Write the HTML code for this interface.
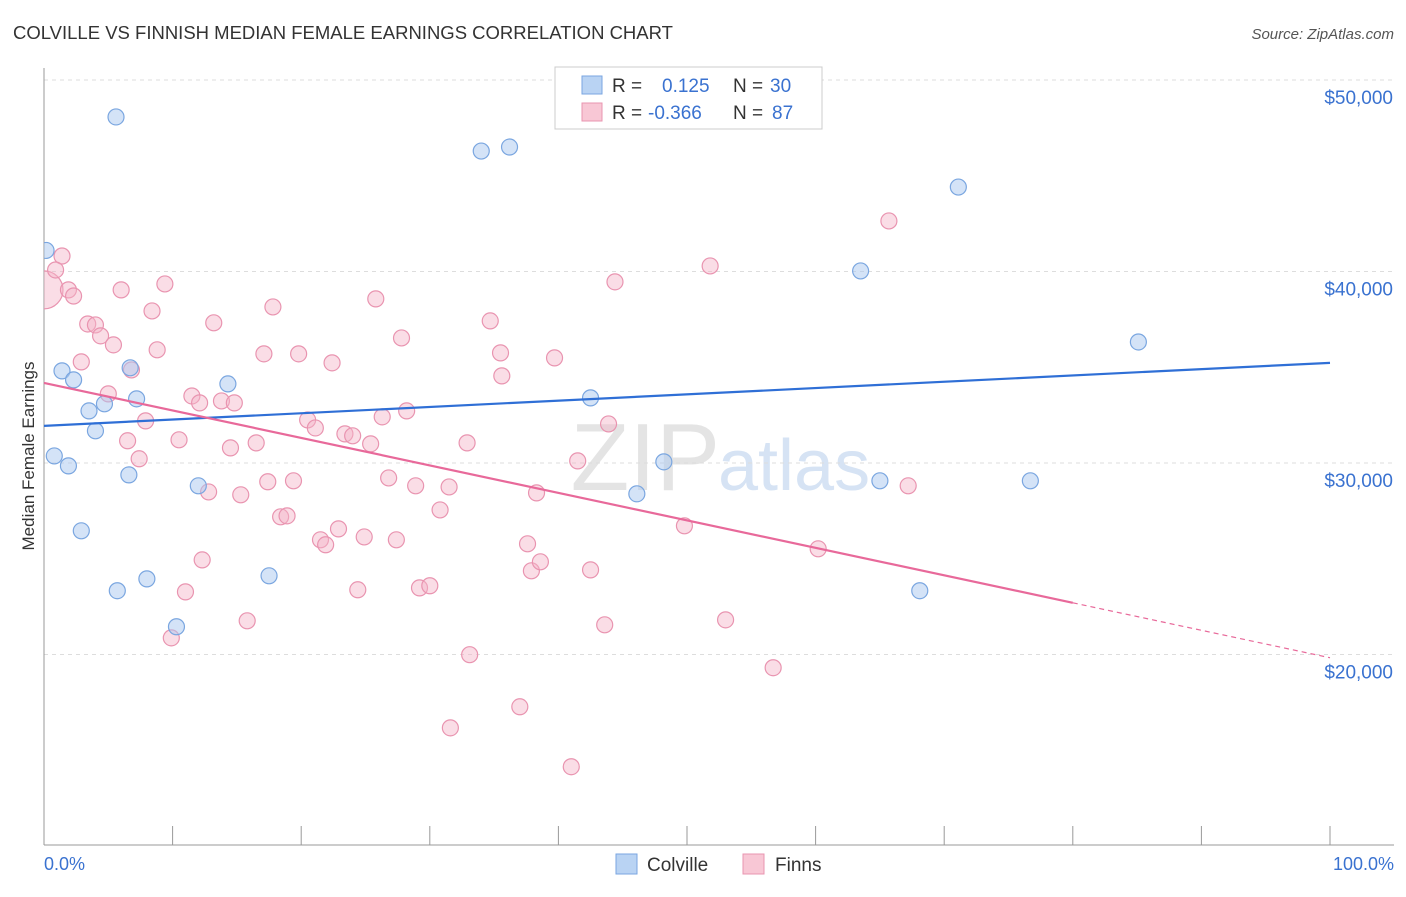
<!DOCTYPE html>
<html><head><meta charset="utf-8">
<style>
body{margin:0;background:#fff;font-family:"Liberation Sans",sans-serif;}
svg text{font-family:"Liberation Sans",sans-serif;}
</style></head>
<body>
<svg id="chart" width="1406" height="892" viewBox="0 0 1406 892" xmlns="http://www.w3.org/2000/svg">
<defs><clipPath id="plotclip"><rect x="44" y="60" width="1360" height="785"/></clipPath></defs>
<text x="13" y="39" font-size="18.5" fill="#333">COLVILLE VS FINNISH MEDIAN FEMALE EARNINGS CORRELATION CHART</text>
<text x="1394" y="39" font-size="15" fill="#555" text-anchor="end" font-style="italic">Source: ZipAtlas.com</text>
<text x="720" y="490" font-size="96" fill="#e4e4e4" text-anchor="end" font-family="Liberation Serif">ZIP</text>
<text x="718" y="490" font-size="72" fill="#d6e3f4">atlas</text>
<g id="grid"></g>
<g id="axes"></g>
<g id="pts" clip-path="url(#plotclip)"></g>
<g id="lines"></g>
<text transform="translate(34,456) rotate(-90)" font-size="17" fill="#333" text-anchor="middle">Median Female Earnings</text>
<g>
<rect x="555" y="67" width="267" height="62" fill="#fff" stroke="#ccc"/>
<rect x="582" y="76" width="20" height="18" fill="#b9d3f3" stroke="#7aa6e0"/>
<text x="612" y="92" font-size="19" fill="#333">R =</text><text x="662" y="92" font-size="19" fill="#3a72d0">0.125</text>
<text x="733" y="92" font-size="19" fill="#333">N =</text><text x="770" y="92" font-size="19" fill="#3a72d0">30</text>
<rect x="582" y="103" width="20" height="18" fill="#f8c7d5" stroke="#e994b0"/>
<text x="612" y="119" font-size="19" fill="#333">R =</text><text x="648" y="119" font-size="19" fill="#3a72d0">-0.366</text>
<text x="733" y="119" font-size="19" fill="#333">N =</text><text x="772" y="119" font-size="19" fill="#3a72d0">87</text>
</g>
<g>
<rect x="616" y="854" width="21" height="20" fill="#b9d3f3" stroke="#7aa6e0"/>
<text x="647" y="871" font-size="19" fill="#333">Colville</text>
<rect x="743" y="854" width="21" height="20" fill="#f8c7d5" stroke="#e994b0"/>
<text x="775" y="871" font-size="19" fill="#333">Finns</text>
</g>
<text x="44" y="870" font-size="18" fill="#3a72d0">0.0%</text>
<text x="1394" y="870" font-size="18" fill="#3a72d0" text-anchor="end">100.0%</text>
</svg>
<script>
const yTicks=[20000,30000,40000,50000];
const yTickLabels=["$20,000","$30,000","$40,000","$50,000"];
const colvilleX=[0.16,5.6,1.4,2.3,3.5,4.7,4.0,6.7,7.2,0.8,1.9,6.6,2.9,5.7,8.0,10.3,12.0,14.3,17.5,34.0,36.2,42.5,46.1,48.2,63.5,65.0,68.1,71.1,76.7,85.1];
const colvilleY=[41100,48070,34810,34340,32720,33090,31680,34970,33350,30370,29850,29380,26460,23330,23950,21450,28810,34130,24110,46290,46500,33400,28390,30060,40030,29070,23330,44410,29070,36320];
const finnsX=[0,1.4,0.9,1.9,2.3,6.0,9.4,8.4,3.4,4.0,4.4,5.4,8.8,13.2,17.8,17.1,19.8,22.4,25.8,27.8,34.7,35.5,35.6,39.7,44.4,51.8,65.7,2.9,5.0,6.8,7.9,11.5,12.1,13.8,14.8,6.5,7.4,10.5,14.5,16.5,20.5,21.1,23.4,24.0,25.4,26.3,28.2,32.9,41.5,43.9,15.3,17.4,19.4,12.8,18.4,18.9,21.5,21.9,22.9,24.9,26.8,27.4,28.9,30.8,31.5,38.3,12.3,11.0,15.8,9.9,24.4,29.2,30.0,33.1,37.6,37.9,38.6,42.5,43.6,49.8,53.0,56.7,60.2,67.2,31.6,37.0,41.0];
const finnsY=[39040,40810,40080,39040,38720,39040,39350,37940,37260,37210,36640,36170,35910,37320,38150,35700,35700,35230,38570,36530,37420,35750,34550,35490,39460,40290,42640,35280,33610,34860,32200,33500,33140,33240,33140,31160,30220,31210,30790,31050,32250,31830,31520,31420,31000,32410,32720,31050,30110,32040,28340,29020,29070,28490,27190,27240,25990,25730,26560,26140,29220,25990,28810,27550,28750,28440,24940,23270,21760,20870,23380,23480,23590,19990,25780,24370,24840,24420,21550,26720,21810,19310,25520,28810,16170,17270,14140];
const colvilleTrend=[31940,35230];
const finnsTrend=[34180,19830];
const finnsSolidEnd=80;

const NS="http://www.w3.org/2000/svg";
const xs=p=>44+p*12.86;
const ys=v=>80+(50000-v)*0.01915;
function mk(tag,attrs,parent){const e=document.createElementNS(NS,tag);for(const k in attrs)e.setAttribute(k,attrs[k]);parent.appendChild(e);return e;}
const grid=document.getElementById('grid'),axes=document.getElementById('axes'),pts=document.getElementById('pts'),lines=document.getElementById('lines');
yTicks.forEach((t,i)=>{
  const l=mk('line',{x1:44,x2:1394,y1:ys(t),y2:ys(t),stroke:'#ddd','stroke-dasharray':'4,4'},grid);
  
  
  const tx=mk('text',{x:1393,y:ys(t)+24,'font-size':19,fill:'#3a72d0','text-anchor':'end'},grid);
  tx.textContent=yTickLabels[i];
  
  
});
const ya=mk('line',{x1:44,x2:44,y1:68,y2:845,stroke:'#999'},axes);


const xa=mk('line',{x1:44,x2:1394,y1:845,y2:845,stroke:'#999'},axes);


for(let i=0;i<=10;i++){
  const t=mk('line',{x1:xs(i*10),x2:xs(i*10),y1:826,y2:845,stroke:'#999'},axes);
  
  
}
finnsX.forEach((x,i)=>{
  const c=mk('circle',{cx:xs(x),cy:ys(finnsY[i]),r:i===0?19:8,fill:'#f5b3c8','fill-opacity':0.45,stroke:'#e994b0','stroke-width':1.2},pts);
  
  
});
colvilleX.forEach((x,i)=>{
  const c=mk('circle',{cx:xs(x),cy:ys(colvilleY[i]),r:8,fill:'#a9c8f0','fill-opacity':0.5,stroke:'#7aa6e0','stroke-width':1.2},pts);
  
  
});
const bl=mk('line',{x1:xs(0),y1:ys(colvilleTrend[0]),x2:xs(100),y2:ys(colvilleTrend[1]),stroke:'#2f6fd6','stroke-width':2.2},lines);


const fAt=p=>finnsTrend[0]+(finnsTrend[1]-finnsTrend[0])*p/100;
const pl=mk('line',{x1:xs(0),y1:ys(fAt(0)),x2:xs(finnsSolidEnd),y2:ys(fAt(finnsSolidEnd)),stroke:'#e8699a','stroke-width':2.2},lines);


const pd=mk('line',{x1:xs(finnsSolidEnd),y1:ys(fAt(finnsSolidEnd)),x2:xs(100),y2:ys(fAt(100)),stroke:'#e8699a','stroke-width':1.2,'stroke-dasharray':'5,4'},lines);


</script>
</body></html>
